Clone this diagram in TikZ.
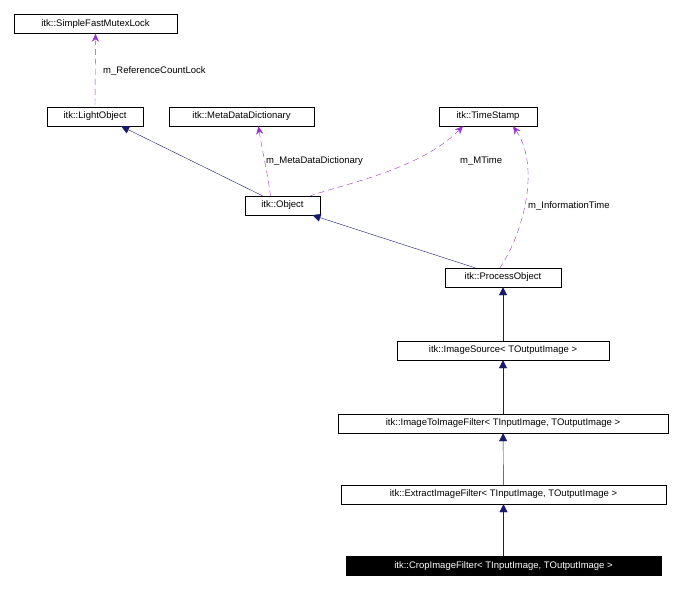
\documentclass[tikz,border=0pt]{standalone}
\usepackage{fontspec}
\setmainfont{Liberation Sans}
\usetikzlibrary{arrows.meta}
\definecolor{navy}{RGB}{25,25,112}
\definecolor{purp}{RGB}{153,50,204}
\tikzset{
 cls/.style={draw=black,fill=white,inner sep=0pt,minimum height=19pt,font=\fontsize{9.5}{10}\selectfont},
 inh/.style={draw=navy,{Triangle[length=8pt,width=8pt,fill=navy]}-},
 use/.style={draw=purp,dashed,dash pattern=on 6pt off 4pt,{Stealth[length=8pt,width=7pt,fill=purp]}-},
 lbl/.style={font=\fontsize{9.5}{10}\selectfont,anchor=west,inner sep=0pt}
}
\begin{document}
\begin{tikzpicture}[x=1pt,y=-1pt]
\useasboundingbox (0,0) rectangle (684,590);
\node[cls,minimum width=163pt] (sfm) at (95.5,24) {itk::SimpleFastMutexLock};
\node[cls,minimum width=96pt] (lo) at (95,116.5) {itk::LightObject};
\node[cls,minimum width=145pt] (md) at (241.5,116.5) {itk::MetaDataDictionary};
\node[cls,minimum width=98pt] (ts) at (488,116.5) {itk::TimeStamp};
\node[cls,minimum width=75pt] (obj) at (282.5,205.5) {itk::Object};
\node[cls,minimum width=116pt] (po) at (503,277.5) {itk::ProcessObject};
\node[cls,minimum width=212pt] (is) at (503,350.5) {itk::ImageSource< TOutputImage >};
\node[cls,minimum width=330pt] (iti) at (503,423.5) {itk::ImageToImageFilter< TInputImage, TOutputImage >};
\node[cls,minimum width=325pt] (ext) at (503.5,494.5) {itk::ExtractImageFilter< TInputImage, TOutputImage >};
\node[cls,minimum width=315pt,fill=black,text=white] (crop) at (503.5,566) {itk::CropImageFilter< TInputImage, TOutputImage >};

\draw[inh] (lo.south east)+(-22,0) -- ([xshift=-20pt]obj.north);
\draw[inh] ([xshift=30pt]obj.south) -- ([xshift=-28pt]po.north);
\draw[inh] (po) -- (is);
\draw[inh] (is) -- (iti);
\draw[inh] (iti) -- (ext);
\draw[inh] (ext) -- (crop);

\draw[use] (sfm.south) -- (lo.north);
\node[lbl] (l1) at (103,71) {m\_ReferenceCountLock};
\draw[use] ([xshift=17pt]md.south) .. controls (262,150) and (268,175) .. ([xshift=-12pt]obj.north);
\node[lbl] (l2) at (266,161) {m\_MetaDataDictionary};
\draw[use] ([xshift=-25pt]ts.south) .. controls (420,170) and (340,185) .. ([xshift=28pt]obj.north);
\node[lbl] (l3) at (460,161) {m\_MTime};
\draw[use] ([xshift=25pt]ts.south) .. controls (540,165) and (525,230) .. ([xshift=-3pt]po.north);
\node[lbl] (l4) at (528,206) {m\_InformationTime};
\end{tikzpicture}
\end{document}
